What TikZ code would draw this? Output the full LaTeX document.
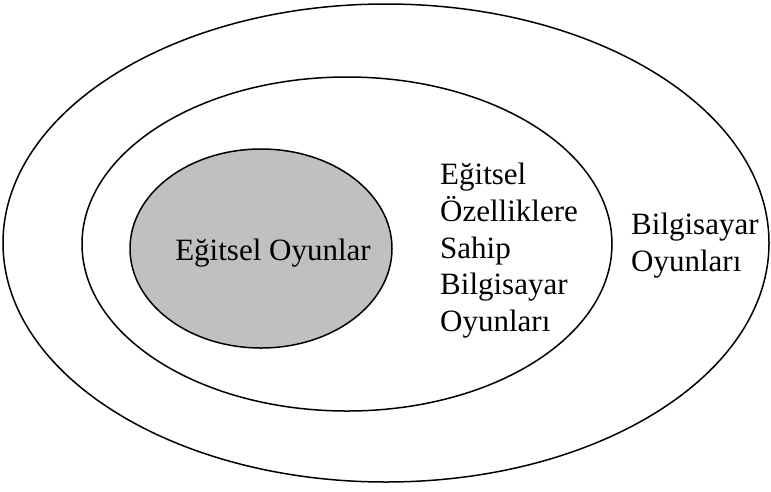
\documentclass[tikz,border=0pt]{standalone}
\usepackage{fontspec}
\setmainfont{Liberation Serif}
\begin{document}
\begin{tikzpicture}[x=1pt,y=-1pt,
  ring/.style={draw=black,line width=1.5pt},
  lbl/.style={font=\fontsize{31}{36.7}\selectfont,inner sep=0pt,align=left}]
\useasboundingbox (0,0) rectangle (771,491);
\draw[ring] (386,243) ellipse [x radius=383, y radius=239];
\draw[ring] (347,244) ellipse [x radius=265, y radius=167];
\draw[ring,fill={rgb,255:red,192;green,192;blue,192}] (261,248.5) ellipse [x radius=131, y radius=99.5];
\node[lbl,anchor=base] (inner) at (273,260) {Eğitsel Oyunlar};
\node[lbl,anchor=north west] (mid) at (440,163) {Eğitsel\\Özelliklere\\Sahip\\Bilgisayar\\Oyunları};
\node[lbl,anchor=north west] (outer) at (631,213) {Bilgisayar\\Oyunları};
\end{tikzpicture}
\end{document}
